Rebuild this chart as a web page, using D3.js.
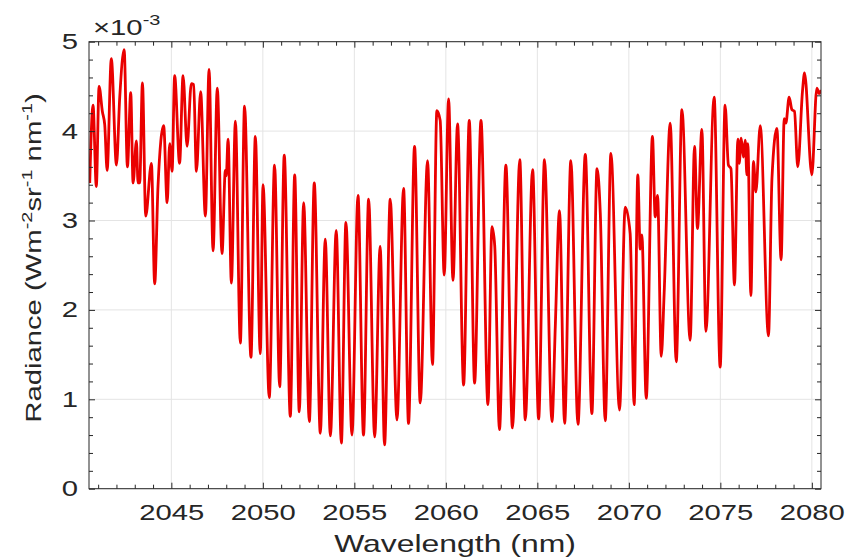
<!DOCTYPE html>
<html lang="en">
<head>
    <meta charset="UTF-8" />
    <title>Radiance spectrum</title>
    <script src="https://d3js.org/d3.v7.min.js"></script>
    <style>
        body { margin: 0; background: #fff; }
        text { font-family: "Liberation Sans", Arial, sans-serif; fill: #262626; }
    </style>
</head>
<body>
    <script>
        // wavelength (nm) and radiance (x 1e-3 W m^-2 sr^-1 nm^-1)
        const wavelength = [
            2040.54, 2040.72, 2040.90, 2041.05, 2041.23, 2041.36, 2041.49, 2041.72, 2042.00, 2042.18,
            2042.42, 2042.60, 2042.78, 2042.91, 2043.09, 2043.18, 2043.27, 2043.42, 2043.60, 2043.91,
            2044.09, 2044.27, 2044.58, 2044.77, 2044.91, 2045.04, 2045.18, 2045.45, 2045.64, 2045.86,
            2046.09, 2046.22, 2046.37, 2046.60, 2046.86, 2047.06, 2047.28, 2047.51, 2047.77, 2047.95,
            2048.00, 2048.10, 2048.28, 2048.50, 2048.77, 2049.00, 2049.35, 2049.59, 2049.86, 2050.01,
            2050.35, 2050.64, 2050.92, 2051.17, 2051.50, 2051.74, 2051.99, 2052.23, 2052.54, 2052.81,
            2053.14, 2053.41, 2053.69, 2054.01, 2054.29, 2054.54, 2054.87, 2055.20, 2055.50, 2055.78,
            2056.11, 2056.41, 2056.65, 2056.96, 2057.33, 2057.69, 2057.96, 2058.29, 2058.60, 2059.00,
            2059.27, 2059.51, 2059.69, 2059.91, 2060.15, 2060.39, 2060.64, 2060.97, 2061.28, 2061.57,
            2061.92, 2062.30, 2062.52, 2062.67, 2062.93, 2063.28, 2063.64, 2064.04, 2064.34, 2064.74,
            2065.07, 2065.39, 2065.80, 2065.98, 2066.21, 2066.49, 2066.83, 2067.22, 2067.62, 2067.98,
            2068.26, 2068.44, 2068.71, 2069.02, 2069.49, 2069.80, 2070.07, 2070.29, 2070.49, 2070.62,
            2070.71, 2070.95, 2071.29, 2071.44, 2071.57, 2071.77, 2071.93, 2072.26, 2072.59, 2072.90,
            2073.35, 2073.59, 2073.75, 2073.99, 2074.21, 2074.66, 2074.99, 2075.26, 2075.44, 2075.58,
            2075.77, 2075.96, 2076.03, 2076.14, 2076.26, 2076.36, 2076.45, 2076.50, 2076.67, 2076.81,
            2076.94, 2077.18, 2077.63, 2077.82, 2078.09, 2078.32, 2078.49, 2078.58, 2078.76, 2078.91,
            2079.05, 2079.23, 2079.49, 2079.60, 2080.00, 2080.27, 2080.40, 2080.51
        ];
        const radiance = [
            3.42, 4.29, 3.38, 4.50, 4.22, 4.07, 3.56, 4.81, 3.62, 4.38,
            4.91, 3.60, 4.43, 3.42, 3.89, 3.42, 3.42, 4.54, 3.05, 3.64,
            2.29, 3.38, 4.06, 3.20, 3.86, 3.55, 4.62, 3.64, 4.62, 3.83,
            4.53, 4.52, 3.55, 4.44, 3.05, 4.69, 2.66, 4.48, 2.63, 3.56,
            3.50, 3.91, 2.30, 4.11, 1.63, 4.28, 1.47, 3.94, 1.51, 3.40,
            1.02, 3.62, 1.14, 3.73, 0.81, 3.51, 0.86, 3.20, 0.75, 3.42,
            0.62, 2.79, 0.59, 2.89, 0.51, 2.98, 0.60, 3.28, 0.60, 3.24,
            0.58, 2.71, 0.49, 3.24, 0.77, 3.36, 0.73, 3.83, 0.96, 3.67,
            1.39, 4.23, 4.12, 2.39, 4.36, 2.33, 4.08, 1.16, 4.12, 1.18,
            4.12, 0.94, 2.93, 2.72, 0.66, 3.62, 0.68, 3.68, 0.77, 3.57,
            0.78, 3.68, 0.75, 1.81, 3.11, 0.73, 3.67, 0.72, 3.74, 0.84,
            3.58, 3.08, 0.76, 3.75, 0.88, 3.15, 2.86, 0.94, 3.51, 2.68,
            2.84, 1.01, 3.94, 3.04, 3.28, 1.48, 2.19, 4.09, 1.42, 4.24,
            1.66, 3.83, 2.91, 4.02, 1.76, 4.38, 1.36, 4.29, 3.62, 3.58,
            2.28, 3.91, 3.64, 3.92, 3.71, 3.90, 3.51, 3.86, 2.16, 3.66,
            3.32, 4.06, 1.71, 3.47, 4.03, 2.56, 4.14, 4.09, 4.38, 4.24,
            4.22, 3.60, 4.45, 4.65, 3.51, 4.48, 4.42, 4.46
        ];
        const xTicks = [2045, 2050, 2055, 2060, 2065, 2070, 2075, 2080];
        const yTicks = [0, 1, 2, 3, 4, 5];

        const width = 857, height = 558;
        const SX = 1.33; // the original font is drawn wide
        const plotL = 89, plotR = 821, plotT = 41.7, plotB = 488.7;
        const axisColor = '#262626';

        const data = wavelength.map((w, i) => ({ w: w, r: radiance[i] }));

        const svg = d3.select('body').append('svg')
            .attr('width', width).attr('height', height);
        svg.append('rect').attr('width', width).attr('height', height).attr('fill', '#fff');

        const x = d3.scaleLinear().domain([2040.5, 2080.5]).range([plotL, plotR]);
        const y = d3.scaleLinear().domain([0, 5]).range([plotB, plotT]);

        // grid
        svg.append('g').selectAll('line').data(xTicks).enter().append('line')
            .attr('x1', d => x(d)).attr('x2', d => x(d))
            .attr('y1', plotT).attr('y2', plotB)
            .attr('stroke', '#e4e4e4').attr('stroke-width', 1);
        svg.append('g').selectAll('line').data(yTicks).enter().append('line')
            .attr('x1', plotL).attr('x2', plotR)
            .attr('y1', d => y(d)).attr('y2', d => y(d))
            .attr('stroke', '#e4e4e4').attr('stroke-width', 1);

        // spectrum
        svg.append('clipPath').attr('id', 'plot')
            .append('rect').attr('x', plotL).attr('y', plotT)
            .attr('width', plotR - plotL).attr('height', plotB - plotT);
        const line = d3.line().x(d => x(d.w)).y(d => y(d.r)).curve(d3.curveMonotoneX);
        svg.append('path').datum(data)
            .attr('clip-path', 'url(#plot)')
            .attr('d', line)
            .attr('fill', 'none')
            .attr('stroke', '#ea0000')
            .attr('stroke-width', 2.8)
            .attr('stroke-linejoin', 'round');

        // axes, ticks pointing inward on all four sides
        const xMinor = d3.range(2041, 2081).filter(v => xTicks.indexOf(v) < 0);
        const yMinor = d3.range(0.2, 5, 0.2).filter(v => Math.abs(v - Math.round(v)) > 0.01);

        function styleAxis(g) {
            g.select('.domain').remove();
            g.selectAll('line').attr('stroke', axisColor);
        }

        const gx = svg.append('g').attr('transform', `translate(0,${plotB})`)
            .call(d3.axisBottom(x).tickValues(xTicks).tickSize(-6).tickPadding(15.3).tickFormat(d3.format('d')))
            .call(styleAxis);
        gx.selectAll('text').attr('font-size', 22).attr('fill', axisColor)
            .attr('transform', `scale(${SX},1)`);
        svg.append('g').attr('transform', `translate(0,${plotB})`)
            .call(d3.axisBottom(x).tickValues(xMinor).tickSize(-4).tickFormat(''))
            .call(styleAxis);
        svg.append('g').attr('transform', `translate(0,${plotT})`)
            .call(d3.axisTop(x).tickValues(xTicks).tickSize(-6).tickFormat(''))
            .call(styleAxis);
        svg.append('g').attr('transform', `translate(0,${plotT})`)
            .call(d3.axisTop(x).tickValues(xMinor).tickSize(-4).tickFormat(''))
            .call(styleAxis);

        const gy = svg.append('g').attr('transform', `translate(${plotL},0)`)
            .call(d3.axisLeft(y).tickValues(yTicks).tickSize(-6).tickPadding(11).tickFormat(d3.format('d')))
            .call(styleAxis);
        gy.selectAll('text').attr('font-size', 22).attr('fill', axisColor)
            .attr('x', -11 / SX).attr('transform', `scale(${SX},1)`);
        svg.append('g').attr('transform', `translate(${plotL},0)`)
            .call(d3.axisLeft(y).tickValues(yMinor).tickSize(-4).tickFormat(''))
            .call(styleAxis);
        svg.append('g').attr('transform', `translate(${plotR},0)`)
            .call(d3.axisRight(y).tickValues(yTicks).tickSize(-6).tickFormat(''))
            .call(styleAxis);
        svg.append('g').attr('transform', `translate(${plotR},0)`)
            .call(d3.axisRight(y).tickValues(yMinor).tickSize(-4).tickFormat(''))
            .call(styleAxis);

        svg.append('rect')
            .attr('x', plotL).attr('y', plotT)
            .attr('width', plotR - plotL).attr('height', plotB - plotT)
            .attr('fill', 'none').attr('stroke', axisColor).attr('stroke-width', 1);

        // exponent label
        const expo = svg.append('text')
            .attr('transform', `translate(93,35) scale(${SX},1)`)
            .attr('font-size', 22);
        expo.append('tspan').text('\u00d710');
        expo.append('tspan').attr('dy', -10).attr('font-size', 15).text('-3');

        // x label
        svg.append('text')
            .attr('transform', `translate(${(plotL + plotR) / 2},552) scale(${SX},1)`)
            .attr('text-anchor', 'middle')
            .attr('font-size', 24)
            .text('Wavelength (nm)');

        // y label
        const yl = svg.append('text')
            .attr('transform', `translate(41,258) rotate(-90) scale(${SX},1)`)
            .attr('text-anchor', 'middle')
            .attr('font-size', 22);
        yl.append('tspan').text('Radiance (Wm');
        yl.append('tspan').attr('dy', -9).attr('font-size', 15).text('-2');
        yl.append('tspan').attr('dy', 9).text('sr');
        yl.append('tspan').attr('dy', -9).attr('font-size', 15).text('-1');
        yl.append('tspan').attr('dy', 9).text(' nm');
        yl.append('tspan').attr('dy', -9).attr('font-size', 15).text('-1');
        yl.append('tspan').attr('dy', 9).text(')');
    </script>
</body>
</html>
